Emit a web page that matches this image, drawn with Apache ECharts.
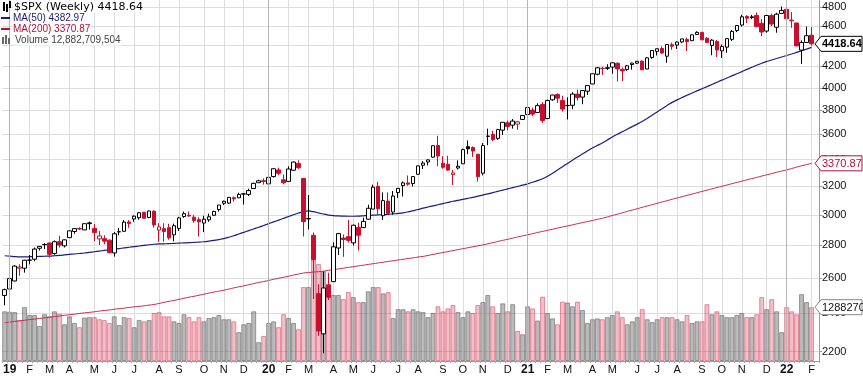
<!DOCTYPE html>
<html>
<head>
<meta charset="utf-8">
<script src="https://cdn.jsdelivr.net/npm/echarts@6/dist/echarts.min.js"></script>
<style>
html, body { margin: 0; padding: 0; background: #fff; }
#chart { width: 863px; height: 376px; }
</style>
</head>
<body>
<div id="chart"></div>
<script>
// weekly bars, one per week starting Monday 2018-12-31
var firstMonday = Date.UTC(2018, 11, 31);
var prevClose0 = 2485.74;

var opens = [
    2498.94, 2535.61, 2582.1, 2657.88, 2657.88, 2706.49, 2712.4, 2780.67, 2804.35, 2814.37,
    2747.61, 2822.61, 2796.01, 2848.63, 2888.46, 2908.32, 2898.78, 2940.58, 2908.89, 2840.19,
    2841.94, 2832.41, 2751.53, 2885.83, 2889.75, 2951.42, 2971.41, 2979.77, 3017.8, 2981.93,
    3024.47, 2898.07, 2907.07, 2913.48, 2866.7, 2909.01, 2988.43, 2996.41, 2983.5, 2967.07,
    2944.23, 2965.81, 2996.48, 3035.39, 3078.96, 3080.33, 3117.91, 3117.44, 3143.85, 3141.86,
    3183.63, 3226.05, 3240.09, 3217.55, 3271.13, 3321.03, 3247.16, 3235.66, 3318.28, 3369.04,
    3257.61, 2974.28, 2863.89, 2508.59, 2290.71, 2558.98, 2578.28, 2782.46, 2845.62, 2854.65,
    2815.01, 2915.46, 2913.86, 2969.95, 3038.78, 3199.92, 2993.76, 3094.42, 3018.59, 3155.29,
    3205.08, 3224.29, 3219.84, 3288.26, 3356.04, 3380.86, 3418.09, 3509.73, 3371.88, 3363.56,
    3285.57, 3334.9, 3367.27, 3500.02, 3493.5, 3441.42, 3296.2, 3583.04, 3600.16, 3566.82,
    3634.18, 3694.73, 3675.27, 3684.28, 3723.03, 3764.61, 3803.14, 3781.88, 3851.68, 3731.17,
    3892.59, 3939.61, 3885.55, 3842.51, 3844.39, 3942.96, 3916.48, 3969.31, 4034.44, 4124.71,
    4179.8, 4185.03, 4191.98, 4228.29, 4169.92, 4170.16, 4216.52, 4229.34, 4248.87, 4173.4,
    4284.9, 4343.54, 4372.41, 4296.4, 4409.58, 4406.86, 4437.77, 4461.65, 4450.29, 4513.76,
    4535.38, 4474.81, 4402.95, 4442.12, 4348.84, 4385.44, 4463.72, 4553.69, 4610.62, 4701.48,
    4689.3, 4712.0, 4628.75, 4548.37, 4710.3, 4587.9, 4733.99, 4778.14, 4655.34, 4632.24,
    4356.32, 4431.79, 4505.75
];
var highs = [
    2538.07, 2597.82, 2675.47, 2681.83, 2708.95, 2738.98, 2785.82, 2795.0, 2813.49, 2816.88,
    2830.73, 2860.31, 2836.03, 2893.42, 2910.54, 2916.06, 2939.88, 2954.13, 2937.32, 2892.15,
    2864.0, 2836.4, 2884.93, 2910.61, 2964.15, 2964.15, 2995.84, 3017.8, 3017.8, 3027.98,
    3029.37, 2943.31, 2943.31, 2939.08, 2940.43, 2985.86, 3021.99, 3022.0, 2999.22, 2983.85,
    2993.28, 3008.29, 3027.39, 3066.95, 3097.77, 3120.46, 3127.64, 3154.26, 3150.6, 3182.68,
    3225.65, 3247.93, 3258.14, 3282.99, 3329.88, 3337.77, 3285.91, 3347.96, 3385.09, 3393.52,
    3259.81, 3136.72, 2882.59, 2562.98, 2637.01, 2631.05, 2818.57, 2879.22, 2868.98, 2964.95,
    2934.0, 2945.82, 2980.29, 3068.67, 3211.72, 3233.13, 3155.53, 3155.53, 3165.81, 3186.82,
    3235.32, 3279.32, 3272.17, 3352.54, 3387.89, 3399.96, 3509.44, 3588.11, 3425.55, 3428.92,
    3320.31, 3393.56, 3485.34, 3549.85, 3502.42, 3441.42, 3529.05, 3645.99, 3628.51, 3644.31,
    3699.2, 3712.39, 3726.7, 3711.24, 3760.2, 3826.69, 3823.6, 3861.45, 3870.9, 3894.12,
    3937.23, 3950.43, 3928.65, 3914.5, 3960.27, 3983.87, 3978.19, 4020.63, 4129.48, 4191.31,
    4194.17, 4218.78, 4238.04, 4236.39, 4188.72, 4213.42, 4234.12, 4249.74, 4257.16, 4286.12,
    4355.01, 4372.87, 4393.68, 4415.18, 4429.97, 4442.18, 4468.0, 4480.26, 4513.33, 4545.85,
    4535.38, 4486.87, 4465.4, 4457.3, 4411.76, 4475.82, 4559.67, 4608.08, 4718.5, 4714.92,
    4717.75, 4743.83, 4672.95, 4713.57, 4731.99, 4740.74, 4808.93, 4818.62, 4748.83, 4632.24,
    4453.23, 4595.31, 4590.03
];
var lows = [
    2443.96, 2524.56, 2580.31, 2612.86, 2631.29, 2681.83, 2700.66, 2766.67, 2775.13, 2722.27,
    2739.47, 2785.02, 2785.68, 2848.63, 2873.28, 2898.39, 2898.78, 2900.5, 2825.39, 2801.43,
    2805.49, 2750.52, 2728.81, 2863.09, 2887.3, 2912.66, 2952.22, 2966.39, 2975.86, 2976.5,
    2914.11, 2822.12, 2822.12, 2834.97, 2825.51, 2891.85, 2978.18, 2985.68, 2946.01, 2855.94,
    2884.0, 2952.86, 2991.16, 3022.16, 3066.91, 3075.82, 3091.41, 3117.44, 3070.33, 3129.62,
    3183.63, 3226.05, 3212.03, 3214.64, 3263.62, 3281.53, 3214.64, 3235.66, 3315.19, 3328.45,
    2855.84, 2901.54, 2478.86, 2280.52, 2191.86, 2473.64, 2578.28, 2739.0, 2727.1, 2816.78,
    2797.85, 2766.64, 2913.86, 2969.95, 3038.78, 2999.49, 2965.66, 3007.4, 2999.7, 3115.7,
    3127.66, 3204.13, 3198.59, 3284.53, 3327.72, 3354.69, 3414.64, 3349.63, 3329.27, 3313.9,
    3209.45, 3323.69, 3367.27, 3441.01, 3419.93, 3233.94, 3279.74, 3511.91, 3543.84, 3555.26,
    3594.39, 3633.4, 3645.84, 3636.48, 3723.03, 3662.71, 3749.62, 3781.88, 3694.12, 3725.62,
    3884.94, 3865.01, 3789.54, 3723.34, 3810.43, 3885.82, 3853.5, 3935.0, 4034.44, 4114.71,
    4118.38, 4164.4, 4128.59, 4056.88, 4061.41, 4155.86, 4167.59, 4220.34, 4164.4, 4173.4,
    4271.0, 4304.0, 4321.07, 4233.13, 4360.0, 4367.73, 4424.7, 4347.53, 4450.29, 4513.76,
    4457.66, 4427.76, 4305.91, 4288.52, 4278.94, 4329.92, 4447.47, 4537.36, 4595.06, 4630.86,
    4672.78, 4585.43, 4495.12, 4532.0, 4600.22, 4531.1, 4733.99, 4662.74, 4582.24, 4395.34,
    4222.62, 4431.79, 4401.41
];
var closes = [
    2531.94, 2596.26, 2670.71, 2664.76, 2706.53, 2707.88, 2775.6, 2792.67, 2803.69, 2743.07,
    2822.48, 2800.71, 2834.4, 2892.74, 2907.41, 2905.03, 2939.88, 2945.64, 2881.4, 2859.53,
    2826.06, 2752.06, 2873.34, 2886.98, 2950.46, 2941.76, 2990.41, 3013.77, 2976.61, 3025.86,
    2932.05, 2918.65, 2888.68, 2847.11, 2926.46, 2978.71, 3007.39, 2992.07, 2961.79, 2952.01,
    2970.27, 2986.2, 3022.55, 3066.91, 3093.08, 3120.46, 3110.29, 3140.98, 3145.91, 3168.8,
    3221.22, 3240.02, 3234.85, 3265.35, 3329.62, 3295.47, 3225.52, 3327.71, 3380.16, 3337.75,
    2954.22, 2972.37, 2711.02, 2304.92, 2541.47, 2488.65, 2789.82, 2874.56, 2836.74, 2830.71,
    2929.8, 2863.7, 2955.45, 3044.31, 3193.93, 3041.31, 3097.74, 3009.05, 3130.01, 3185.04,
    3224.73, 3215.63, 3271.12, 3351.28, 3372.85, 3397.16, 3508.01, 3426.96, 3340.97, 3319.47,
    3298.46, 3348.44, 3477.13, 3483.81, 3465.39, 3269.96, 3509.44, 3585.15, 3557.54, 3638.35,
    3699.12, 3663.46, 3709.41, 3703.06, 3756.07, 3824.68, 3768.25, 3841.47, 3714.24, 3886.83,
    3934.83, 3906.71, 3811.15, 3841.94, 3943.34, 3913.1, 3974.54, 4019.87, 4128.8, 4185.47,
    4180.17, 4181.17, 4232.6, 4173.85, 4155.86, 4204.11, 4229.89, 4247.44, 4166.45, 4280.7,
    4352.34, 4369.55, 4327.16, 4411.79, 4395.26, 4436.52, 4468.0, 4441.67, 4509.37, 4535.43,
    4458.58, 4432.99, 4455.48, 4357.04, 4391.34, 4471.37, 4544.9, 4605.38, 4697.53, 4682.85,
    4697.96, 4594.62, 4538.43, 4712.02, 4620.64, 4725.79, 4766.18, 4677.03, 4662.85, 4397.94,
    4431.85, 4500.53, 4418.64
];
var ma50 = [
    2734, 2732, 2729, 2727, 2727, 2728, 2729, 2730, 2731, 2732,
    2734, 2736, 2739, 2742, 2745, 2748, 2751, 2755, 2759, 2763,
    2767, 2771, 2775, 2779, 2783, 2787, 2791, 2795, 2799, 2803,
    2806, 2808, 2809, 2810, 2812, 2813, 2815, 2816, 2818, 2820,
    2822, 2826, 2831, 2836, 2842, 2851, 2861, 2872, 2883, 2894,
    2905, 2916, 2928, 2940, 2952, 2964, 2976, 2988, 3000, 3012,
    3022, 3026, 3021, 3013, 3005, 2998, 2994, 2992, 2991, 2990,
    2990, 2991, 2993, 2995, 2997, 2999, 3001, 3003, 3006, 3009,
    3013, 3020, 3028, 3036, 3045, 3053, 3061, 3069, 3077, 3085,
    3093, 3100, 3107, 3114, 3121, 3129, 3137, 3145, 3154, 3163,
    3172, 3181, 3190, 3199, 3208, 3218, 3229, 3241, 3255, 3274,
    3296, 3320, 3345, 3370, 3395, 3419, 3442, 3466, 3490, 3510,
    3530, 3554, 3578, 3600, 3621, 3642, 3663, 3684, 3706, 3732,
    3759, 3787, 3815, 3843, 3870, 3892, 3913, 3933, 3953, 3972,
    3991, 4010, 4030, 4050, 4070, 4089, 4109, 4129, 4149, 4170,
    4190, 4210, 4229, 4245, 4260, 4274, 4289, 4303, 4318, 4334,
    4350, 4366, 4382.97
];
var ma200 = [
    2349, 2352, 2356, 2359, 2362, 2366, 2369, 2372, 2375, 2379,
    2382, 2385, 2389, 2392, 2395, 2399, 2402, 2405, 2408, 2412,
    2415, 2418, 2422, 2425, 2428, 2432, 2435, 2438, 2441, 2445,
    2448, 2454, 2460, 2466, 2471, 2477, 2483, 2489, 2494, 2500,
    2506, 2512, 2518, 2523, 2529, 2535, 2542, 2548, 2554, 2560,
    2567, 2573, 2579, 2585, 2592, 2598, 2604, 2610, 2617, 2623,
    2629, 2632, 2635, 2637, 2640, 2645, 2649, 2654, 2658, 2663,
    2667, 2672, 2676, 2681, 2685, 2690, 2694, 2699, 2703, 2708,
    2712, 2717, 2721, 2726, 2730, 2736, 2742, 2748, 2754, 2760,
    2766, 2772, 2778, 2784, 2790, 2796, 2802, 2809, 2816, 2824,
    2831, 2838, 2845, 2853, 2860, 2867, 2874, 2882, 2889, 2896,
    2903, 2911, 2918, 2925, 2932, 2940, 2947, 2954, 2961, 2969,
    2976, 2985, 2995, 3004, 3013, 3023, 3032, 3041, 3051, 3060,
    3069, 3079, 3088, 3097, 3107, 3116, 3125, 3135, 3144, 3153,
    3163, 3172, 3181, 3191, 3200, 3209, 3219, 3228, 3237, 3247,
    3256, 3265, 3275, 3284, 3293, 3303, 3312, 3321, 3331, 3342,
    3352, 3361, 3370.87
];
// volume in billions of shares
var volumes = [
    11.9, 11.8, 11.7, 9.8, 12.9, 11.0, 11.0, 8.4, 11.2, 10.7,
    11.9, 11.3, 8.8, 10.7, 9.1, 8.1, 10.4, 10.5, 10.5, 10.0,
    9.8, 9.1, 10.7, 8.6, 10.5, 10.3, 8.1, 9.8, 9.5, 9.8,
    11.5, 11.7, 10.7, 10.7, 9.5, 9.1, 11.2, 10.5, 9.5, 10.5,
    9.5, 10.3, 10.5, 11.0, 10.0, 10.0, 9.5, 6.9, 8.8, 9.1,
    11.9, 4.5, 6.0, 9.1, 9.5, 8.1, 11.2, 10.3, 9.1, 7.6,
    17.7, 17.7, 24.3, 23.2, 21.5, 18.4, 15.8, 15.8, 14.8, 16.5,
    15.3, 14.1, 14.1, 16.7, 17.7, 17.7, 16.2, 16.5, 10.3, 12.4,
    12.4, 11.9, 12.4, 11.9, 11.7, 10.5, 11.5, 13.1, 11.9, 12.6,
    13.4, 11.7, 10.5, 11.9, 11.5, 13.4, 14.1, 15.8, 13.1, 11.5,
    13.8, 11.9, 13.6, 7.2, 6.4, 13.1, 12.6, 9.7, 15.4, 11.5,
    10.2, 8.8, 14.2, 14.0, 13.1, 14.2, 12.2, 9.1, 10.0, 10.2,
    10.0, 10.5, 11.0, 11.9, 10.5, 8.8, 9.5, 10.5, 12.4, 10.0,
    9.3, 10.0, 10.5, 10.5, 10.5, 10.0, 9.5, 11.0, 9.1, 9.5,
    9.5, 13.6, 11.2, 11.9, 11.0, 10.5, 10.5, 11.0, 11.5, 10.5,
    10.5, 11.2, 15.3, 12.4, 14.8, 11.9, 6.9, 12.9, 11.9, 11.2,
    16.0, 14.1, 12.882709504
];
var priceTicks = [2200, 2400, 2600, 2800, 3000, 3200, 3400, 3600, 3800, 4000, 4200, 4400, 4600, 4800];
var monthLetters = ['J', 'F', 'M', 'A', 'M', 'J', 'J', 'A', 'S', 'O', 'N', 'D'];

var RED = '#c8102e';
var priceMin = 2154, priceMax = 4880;
var volAxisMax = 86.4;

var weeks = [];
for (var i = 0; i < closes.length; i++) {
    weeks.push(new Date(firstMonday + i * 7 * 86400000).toISOString().slice(0, 10));
}
weeks.push('');  // empty slot on the right edge

function isMonthStart(i) {
    if (i < 1 || i >= closes.length) return false;
    return weeks[i].slice(5, 7) !== weeks[i - 1].slice(5, 7);
}
var yearStarts = [];
weeks.forEach(function(w, i) {
    if (isMonthStart(i) && w.slice(5, 7) === '01') yearStarts.push(w);
});

function prevClose(i) { return i ? closes[i - 1] : prevClose0; }

var candleData = closes.map(function(c, i) {
    var o = opens[i];
    var col = c < prevClose(i) ? RED : '#000';
    var fill = c >= o ? '#fff' : col;
    return {
        value: [Math.log(o), Math.log(c), Math.log(lows[i]), Math.log(highs[i])],
        itemStyle: { color: fill, color0: fill, borderColor: col, borderColor0: col, borderColorDoji: col }
    };
});

var volData = volumes.map(function(v, i) {
    var down = closes[i] < prevClose(i);
    return {
        value: v,
        itemStyle: down
            ? { color: 'rgba(214,40,72,0.3)', borderColor: 'rgba(200,40,70,0.45)' }
            : { color: 'rgba(120,120,120,0.5)', borderColor: 'rgba(90,90,90,0.55)' }
    };
});

var logTicks = priceTicks.map(function(p) { return Math.log(p); });
var last = closes.length - 1;
var FONT = '"Liberation Sans", Arial, sans-serif';

function fmt2(n) { return n.toFixed(2); }

function legendText(x, y, text, font, fill) {
    return {
        type: 'text', x: x, y: y, z: 50,
        style: { text: text, font: font, fill: fill, verticalAlign: 'middle', backgroundColor: '#fff', padding: [0, 1, 0, 1] }
    };
}

var legend = [
    { type: 'rect', z: 50, shape: { x: 3, y: 2, width: 2, height: 9 }, style: { fill: '#000' } },
    { type: 'rect', z: 50, shape: { x: 6, y: 4, width: 2, height: 8 }, style: { fill: '#000' } },
    { type: 'rect', z: 50, shape: { x: 9, y: 1, width: 2, height: 7 }, style: { fill: '#000' } },
    legendText(13, 7, '$SPX (Weekly) ' + fmt2(closes[last]), '11px "DejaVu Sans", sans-serif', '#000'),
    { type: 'rect', z: 50, shape: { x: 1, y: 17, width: 9, height: 2 }, style: { fill: '#1c1c7c' } },
    legendText(12, 18.5, 'MA(50) ' + fmt2(ma50[last]), '10px ' + FONT, '#1c1c70'),
    { type: 'rect', z: 50, shape: { x: 1, y: 28, width: 9, height: 2 }, style: { fill: '#b8103c' } },
    legendText(12, 29.5, 'MA(200) ' + fmt2(ma200[last]), '10px ' + FONT, '#b0103a'),
    { type: 'rect', z: 50, shape: { x: 2, y: 37, width: 2, height: 7 }, style: { fill: '#666' } },
    { type: 'rect', z: 50, shape: { x: 5, y: 35, width: 2, height: 9 }, style: { fill: '#666' } },
    { type: 'rect', z: 50, shape: { x: 8, y: 38, width: 2, height: 6 }, style: { fill: '#666' } },
    legendText(14, 40.5, 'Volume ' + Math.round(volumes[last] * 1e9).toLocaleString('en-US'), '10px ' + FONT, '#444')
];

var option = {
    animation: false,
    textStyle: { fontFamily: FONT },
    grid: { left: -1, right: 44, top: 0, bottom: 14 },
    xAxis: {
        type: 'category',
        data: weeks,
        boundaryGap: true,
        axisLine: { lineStyle: { color: '#9a9a9a' } },
        axisTick: { show: true, interval: 0, length: 2, lineStyle: { color: '#a8a8a8' } },
        axisLabel: {
            interval: function(i) { return isMonthStart(i); },
            formatter: function(v) {
                var m = +v.slice(5, 7);
                return m === 1 ? '{yr|' + v.slice(2, 4) + '}' : monthLetters[m - 1];
            },
            margin: 3,
            color: '#111',
            fontSize: 11,
            rich: { yr: { fontWeight: 'bold', fontSize: 12, color: '#111' } }
        },
        splitLine: {
            show: true,
            interval: function(i) { return isMonthStart(i); },
            alignWithLabel: true,
            lineStyle: { color: '#dcdcdc', width: 1 }
        }
    },
    yAxis: [{
        type: 'value',
        position: 'right',
        min: Math.log(priceMin),
        max: Math.log(priceMax),
        axisLine: { show: true, lineStyle: { color: '#9a9a9a' } },
        axisTick: { show: true, customValues: logTicks, length: 3, lineStyle: { color: '#9a9a9a' } },
        axisLabel: {
            customValues: logTicks,
            formatter: function(v) { return String(Math.round(Math.exp(v))); },
            margin: 3,
            color: '#111',
            fontSize: 11
        },
        splitLine: { show: true, lineStyle: { color: '#dcdcdc', width: 1 } }
    }, {
        type: 'value',
        min: 0,
        max: volAxisMax,
        show: false,
        splitLine: { show: false }
    }],
    series: [{
        name: 'Volume',
        type: 'bar',
        yAxisIndex: 1,
        barCategoryGap: '0%',
        data: volData,
        itemStyle: { borderWidth: 1 },
        z: 1,
        markLine: {
            silent: true,
            symbol: ['none', 'none'],
            label: { show: false },
            lineStyle: { color: '#b4b4b4', type: 'solid', width: 1 },
            data: yearStarts.map(function(w) { return { xAxis: w }; })
        }
    }, {
        name: 'MA(200)',
        type: 'line',
        data: ma200.map(function(v) { return Math.log(v); }),
        showSymbol: false,
        smooth: 0.3,
        lineStyle: { color: '#c42a52', width: 1 },
        z: 2
    }, {
        name: 'MA(50)',
        type: 'line',
        data: ma50.map(function(v) { return Math.log(v); }),
        showSymbol: false,
        smooth: 0.3,
        lineStyle: { color: '#1c1c7c', width: 1.2 },
        z: 2
    }, {
        name: '$SPX',
        type: 'candlestick',
        barWidth: 4,
        data: candleData,
        itemStyle: { borderWidth: 1 },
        z: 3
    }],
    graphic: legend
};

var chart = echarts.init(document.getElementById('chart'));
chart.setOption(option);

// value tags on the right axis
var axisX = 863 - 44;
function tag(y, text, color, border, bold) {
    var x0 = axisX - 4;
    return [{
        type: 'polygon',
        z: 100,
        shape: { points: [[x0, y], [x0 + 6, y - 7.5], [862, y - 7.5], [862, y + 7.5], [x0 + 6, y + 7.5]] },
        style: { fill: '#fff', stroke: border, lineWidth: 1 }
    }, {
        type: 'text',
        z: 101,
        x: x0 + 7,
        y: y + 0.5,
        style: { text: text, fill: color, font: (bold ? 'bold ' : '') + '11px ' + FONT, verticalAlign: 'middle' }
    }];
}
var yPrice = chart.convertToPixel({ yAxisIndex: 0 }, Math.log(closes[last]));
var yMa200 = chart.convertToPixel({ yAxisIndex: 0 }, Math.log(ma200[last]));
var yVol = chart.convertToPixel({ yAxisIndex: 1 }, volumes[last]);
chart.setOption({
    graphic: legend.concat(
        tag(yVol, String(Math.round(volumes[last] * 1e9)).slice(0, 7), '#111', '#888', false),
        tag(yMa200, fmt2(ma200[last]), '#b0103a', '#b0103a', false),
        tag(yPrice, fmt2(closes[last]), '#000', '#000', true)
    )
});
</script>
</body>
</html>
